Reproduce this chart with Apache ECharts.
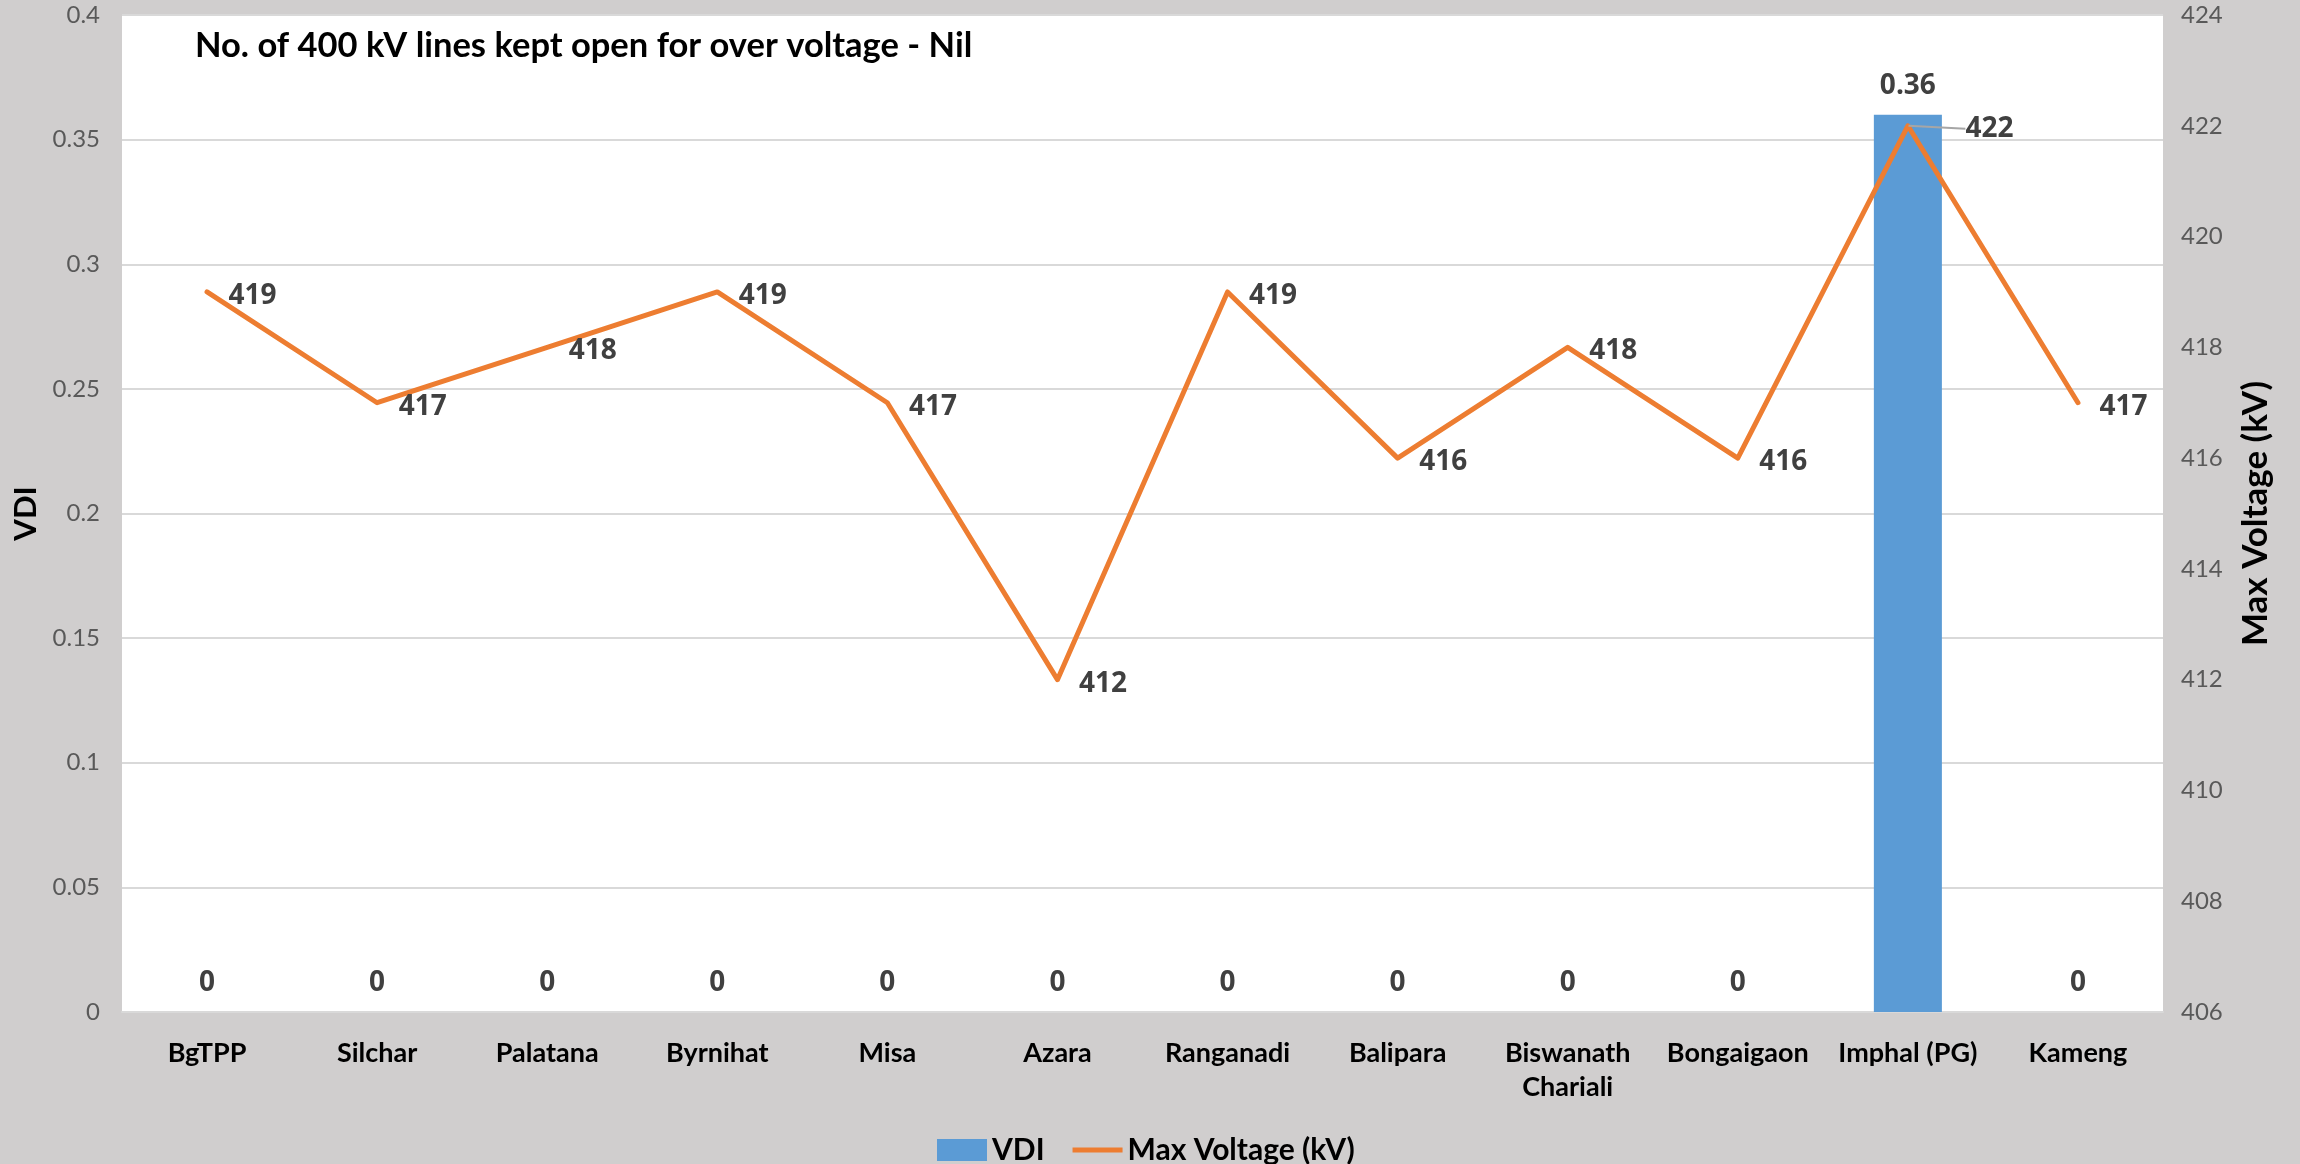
<!DOCTYPE html>
<html>
<head>
<meta charset="utf-8">
<script src="https://cdn.jsdelivr.net/npm/echarts@6/dist/echarts.min.js"></script>
<style>
html,body{margin:0;padding:0;background:#D0CECE;}
#chart{width:2300px;height:1164px;}
</style>
</head>
<body>
<div id="chart"></div>
<script>
const categories = ['BgTPP','Silchar','Palatana','Byrnihat','Misa','Azara','Ranganadi','Balipara','Biswanath\nChariali','Bongaigaon','Imphal (PG)','Kameng'];
const vdiValues = [0,0,0,0,0,0,0,0,0,0,0.36,0];
const maxVoltage = [419,417,418,419,417,412,419,416,418,416,422,417];
const titleText = 'No. of 400 kV lines kept open for over voltage - Nil';

const narrow = "Lato,sans-serif";
const labelFont = "'Open Sans',sans-serif";

const chart = echarts.init(document.getElementById('chart'));
chart.setOption({
  backgroundColor: '#D0CECE',
  animation: false,
  title: {
    text: titleText,
    left: 190, top: 23,
    textStyle: {fontFamily: narrow, fontWeight: 'bold', fontSize: 34.5, color: '#000'}
  },
  grid: {left: 122, right: 137, top: 15, bottom: 152, show: true, backgroundColor: '#fff', borderWidth: 0, containLabel: false, outerBoundsMode: 'none'},
  legend: {
    bottom: -6, left: 932,
    itemWidth: 50, itemHeight: 22, itemGap: 28,
    textStyle: {fontFamily: narrow, fontWeight: 'bold', fontSize: 30, color: '#000'},
    data: [{name: 'VDI', icon: 'rect'}, {name: 'Max Voltage (kV)', icon: 'path://M0,0 L52,0 L52,5 L0,5 Z'}]
  },
  xAxis: {
    type: 'category', data: categories,
    axisLine: {show: true, lineStyle: {color: '#D9D9D9', width: 2}},
    axisTick: {show: false},
    axisLabel: {interval: 0, margin: 24, fontFamily: narrow, fontWeight: 'bold', fontSize: 27, lineHeight: 34, color: '#000'}
  },
  yAxis: [{
    type: 'value', min: 0, max: 0.4, interval: 0.05,
    name: 'VDI', nameLocation: 'middle', nameGap: 79, nameRotate: 90,
    nameTextStyle: {fontFamily: narrow, fontWeight: 'bold', fontSize: 31, color: '#000'},
    axisLine: {show: false}, axisTick: {show: false},
    axisLabel: {margin: 22, fontFamily: narrow, fontSize: 24, color: '#595959'},
    splitLine: {lineStyle: {color: '#D9D9D9', width: 2}}
  }, {
    type: 'value', min: 406, max: 424, interval: 2,
    name: 'Max Voltage (kV)', nameLocation: 'middle', nameGap: 75, nameRotate: 90,
    nameTextStyle: {fontFamily: narrow, fontWeight: 'bold', fontSize: 35, color: '#000'},
    axisLine: {show: false}, axisTick: {show: false},
    axisLabel: {margin: 18, fontFamily: narrow, fontSize: 24, color: '#595959'},
    splitLine: {show: false}
  }],
  series: [{
    name: 'VDI', type: 'bar', data: vdiValues, yAxisIndex: 0,
    barWidth: '40%',
    itemStyle: {color: '#5B9BD5'},
    label: {show: true, position: 'top', distance: 15, fontFamily: labelFont, fontWeight: 'bold', fontSize: 28, color: '#404040'}
  }, {
    name: 'Max Voltage (kV)', type: 'line', yAxisIndex: 1,
    data: maxVoltage.map((v, i) => i === 10 ? {value: v, labelLine: {show: true, lineStyle: {color: '#A6A6A6', width: 2}}} : v),
    symbol: 'circle', symbolSize: 1, showSymbol: true, smooth: false,
    lineStyle: {color: '#ED7D31', width: 5, cap: 'round', join: 'round'},
    itemStyle: {color: '#ED7D31'},
    label: {show: true, position: 'right', distance: 21, fontFamily: labelFont, fontWeight: 'bold', fontSize: 28, color: '#404040'},
    labelLayout: function (p) { return p.dataIndex === 10 ? {dx: 36, dy: 3} : {dy: 4}; }
  }]
});
</script>
</body>
</html>
